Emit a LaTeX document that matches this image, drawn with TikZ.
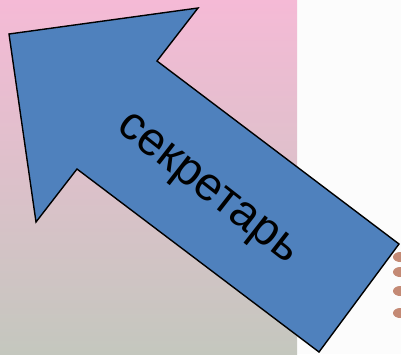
\documentclass[tikz,border=0pt]{standalone}
\usepackage{fontspec}
\setmainfont{Liberation Sans}
\definecolor{arrowblue}{HTML}{4F81BD}
\definecolor{bgtop}{HTML}{F5BAD6}
\definecolor{bgbot}{HTML}{C4C7BE}
\definecolor{dotbrown}{HTML}{C48A75}
\tikzset{
  bigarrow/.style={fill=arrowblue, draw=black, line width=1.4pt, line join=miter},
  dot/.style={fill=dotbrown, draw=none}
}
\begin{document}
\begin{tikzpicture}[x=1pt,y=-1pt]
\useasboundingbox (0,0) rectangle (401,354);
\fill[white!99!black] (0,0) rectangle (401,354);
\shade[top color=bgtop, bottom color=bgbot] (0,0) rectangle (297,354);
\fill[dot] (400,257) ellipse (7 and 5);
\fill[dot] (400,272) ellipse (7 and 5);
\fill[dot] (400,291) ellipse (7 and 5);
\fill[dot] (400,313) ellipse (7 and 5);
\draw[bigarrow] (9,34) -- (198,8) -- (157,61) -- (399,244) -- (319,352) -- (77,169) -- (36,222) -- cycle;
\node[rotate=-38, font=\fontsize{47}{50}\selectfont, inner sep=0pt] (lbl) at (206,191) {секретарь};
\end{tikzpicture}
\end{document}
